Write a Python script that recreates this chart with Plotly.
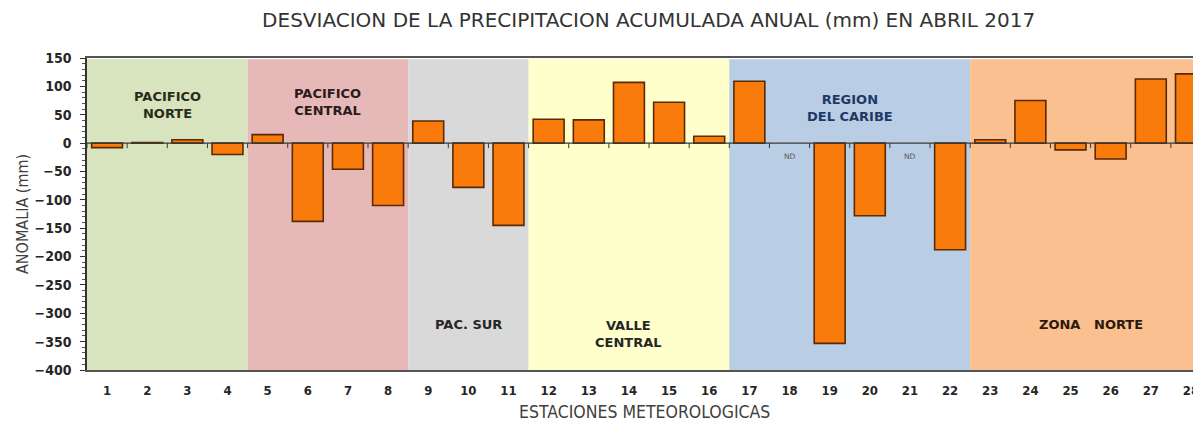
import plotly.graph_objects as go

# ---------------- data ----------------
stations = [str(i) for i in range(1, 29)]
anomaly_mm = [-8, 1, 6, -20, 15, -138, -46, -110, 39, -78, -145, 42, 41, 107, 72, 12,
              109, None, -353, -128, None, -188, 6, 75, -12, -28, 113, 122]
nd_stations = ["18", "21"]

region_names = ["PACIFICO<br>NORTE", "PACIFICO<br>CENTRAL", "PAC. SUR",
                "VALLE<br>CENTRAL", "REGION<br>DEL CARIBE", "ZONA   NORTE"]
region_first = [1, 5, 9, 12, 17, 23]
region_last = [4, 8, 11, 16, 22, 28]
region_colors = ["#d7e4bd", "#e6b9b8", "#d9d9d9", "#ffffcc", "#b9cde5", "#fac090"]
region_label_y = [67, 72, -320, -336, 61, -320]
region_label_color = ["#2b2b1b", "#2b1b1b", "#262626", "#262626", "#1f3864", "#2b1a0b"]

title_text = "DESVIACION DE LA PRECIPITACION ACUMULADA ANUAL (mm) EN ABRIL 2017"
y_title = "ANOMALIA (mm)"
x_title = "ESTACIONES METEOROLOGICAS"

Y_MIN, Y_MAX = -400, 150
X_MIN, X_MAX = 0.5, 28.25

fig = go.Figure()

xnum = list(range(1, len(stations) + 1))
fig.add_trace(go.Bar(
    x=xnum, y=anomaly_mm, width=0.77,
    marker=dict(color="#f97b0c", line=dict(color="#5a2a04", width=1.6)),
    hoverinfo="x+y", showlegend=False,
))

shapes = []
annotations = []
for name, a, b, col, ly, tc in zip(region_names, region_first, region_last,
                                   region_colors, region_label_y, region_label_color):
    shapes.append(dict(type="rect", xref="x", yref="y", x0=a - 0.5, x1=min(b + 0.5, X_MAX),
                       y0=Y_MIN, y1=Y_MAX - 2, fillcolor=col, line=dict(width=0), layer="below"))
    annotations.append(dict(x=(a + b) / 2, y=ly, xref="x", yref="y", text="<b>" + name + "</b>",
                            showarrow=False,
                            font=dict(family="DejaVu Sans", size=13, color=tc)))

# zero line with category-boundary ticks
shapes.append(dict(type="line", xref="x", yref="y", x0=X_MIN, x1=X_MAX, y0=0, y1=0,
                   line=dict(color="#3a3a3a", width=1.2), layer="above"))
for i in range(len(stations) + 1):
    xb = i + 0.5
    if xb <= X_MAX:
        shapes.append(dict(type="line", xref="x", yref="y", x0=xb, x1=xb, y0=0, y1=-9,
                           line=dict(color="#3a3a3a", width=1), layer="above"))

for s in nd_stations:
    annotations.append(dict(x=int(s), y=-24, xref="x", yref="y", text="ND", showarrow=False,
                            font=dict(family="DejaVu Sans", size=7.5, color="#595959")))

annotations.append(dict(x=0, y=0.5, xref="paper", yref="paper", xanchor="center", yanchor="middle",
                        xshift=-65, text=y_title, textangle=-90, showarrow=False,
                        font=dict(family="DejaVu Sans Condensed, DejaVu Sans", size=16, color="#404040")))
annotations.append(dict(x=0.5, y=0, xref="paper", yref="paper", xanchor="center", yanchor="middle",
                        yshift=-42, text=x_title, showarrow=False,
                        font=dict(family="DejaVu Sans Condensed, DejaVu Sans", size=17.5, color="#404040")))

fig.update_layout(
    width=1193, height=417,
    margin=dict(l=79, r=0, t=50, b=55),
    paper_bgcolor="white", plot_bgcolor="white",
    title=dict(text=title_text, x=0.537, xanchor="center", y=0.971, yanchor="middle",
               font=dict(family="DejaVu Sans", size=20, color="#333333")),
    shapes=shapes, annotations=annotations,
    xaxis=dict(range=[X_MIN, X_MAX], tickmode="array", tickvals=xnum, ticktext=stations,
               showgrid=False, zeroline=False, showline=True, linecolor="#555555", linewidth=1.5,
               mirror=True, ticks="", ticklabelstandoff=8,
               tickfont=dict(family="DejaVu Sans Condensed, DejaVu Sans", size=13, color="#262626",
                             weight="bold")),
    yaxis=dict(range=[Y_MIN, Y_MAX], dtick=50, tick0=0, showgrid=False, zeroline=False,
               showline=True, linecolor="#333333", linewidth=1.5, ticks="outside", ticklen=5,
               tickcolor="#333333", ticklabelstandoff=6,
               minor=dict(dtick=10, ticks="outside", ticklen=3, tickcolor="#555555"),
               tickfont=dict(family="DejaVu Sans Condensed, DejaVu Sans", size=14, color="#262626",
                             weight="bold")),
)

fig.write_html("out.html")
